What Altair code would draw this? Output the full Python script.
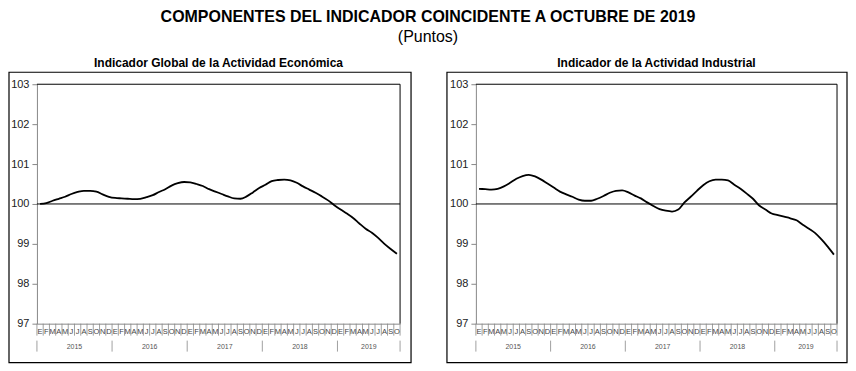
import altair as alt
import pandas as pd

month_letters = ["E", "F", "M", "A", "M", "J", "J", "A", "S", "O", "N", "D"]
years = ["2015", "2016", "2017", "2018", "2019"]
n_months = 58

igae = [100.00, 100.02, 100.08, 100.13, 100.18, 100.25, 100.30, 100.33, 100.33, 100.31, 100.24, 100.18,
        100.15, 100.14, 100.13, 100.12, 100.13, 100.17, 100.22, 100.30, 100.37, 100.46, 100.52, 100.55,
        100.54, 100.50, 100.45, 100.37, 100.31, 100.25, 100.19, 100.14, 100.13, 100.19, 100.29, 100.40,
        100.48, 100.57, 100.60, 100.61, 100.59, 100.53, 100.44, 100.36, 100.28, 100.19, 100.09, 99.97,
        99.86, 99.76, 99.65, 99.51, 99.38, 99.28, 99.15, 99.00, 98.87, 98.75]

iai = [100.38, 100.37, 100.36, 100.38, 100.44, 100.53, 100.63, 100.70, 100.73, 100.69, 100.61, 100.51,
       100.41, 100.31, 100.24, 100.18, 100.11, 100.08, 100.08, 100.13, 100.20, 100.28, 100.33, 100.34,
       100.29, 100.21, 100.14, 100.04, 99.95, 99.87, 99.83, 99.81, 99.86, 100.04, 100.18, 100.33,
       100.47, 100.57, 100.61, 100.61, 100.59, 100.48, 100.38, 100.26, 100.13, 99.96, 99.86, 99.76,
       99.72, 99.68, 99.64, 99.59, 99.48, 99.38, 99.27, 99.11, 98.93, 98.73]

y_ticks = [97, 98, 99, 100, 101, 102, 103]

FONT = "Liberation Sans"
H = 240

months_df = pd.DataFrame({
    "pos": [i + 0.5 for i in range(n_months)],
    "lab": [month_letters[i % 12] for i in range(n_months)],
})
mticks_df = pd.DataFrame({"b": list(range(0, n_months + 1))})
yticks_df = pd.DataFrame({"b": [0, 12, 24, 36, 48, n_months]})
ylabs_df = pd.DataFrame({"pos": [6, 18, 30, 42, 53], "lab": years})

xscale = alt.Scale(domain=[0, n_months], nice=False, zero=False)
yscale = alt.Scale(domain=[97, 103], nice=False, zero=False)
xaxis = alt.Axis(labels=False, ticks=False, title=None, grid=False,
                 domainColor="#888888", domainWidth=1)
yaxis = alt.Axis(values=y_ticks, tickCount=7, title=None, grid=False, domainColor="#888888",
                 tickColor="#888888", tickSize=5, labelPadding=3,
                 labelOverlap=False, labelFlush=False,
                 labelFontSize=11, labelFont=FONT, labelColor="#222222")


def X(f):
    return alt.X(f, scale=xscale, axis=xaxis)


def Y(f):
    return alt.Y(f, scale=yscale, axis=yaxis)


def panel(title, values, width, box_l, box_r):
    df = pd.DataFrame({"pos": [i + 0.5 for i in range(n_months)], "v": values})
    line = alt.Chart(df).mark_line(color="black", strokeWidth=1.8, interpolate="monotone").encode(
        x=X("pos:Q"), y=Y("v:Q"))
    ref = alt.Chart(pd.DataFrame({"v": [100]})).mark_rule(color="black", strokeWidth=1).encode(y=Y("v:Q"))
    top = alt.Chart(pd.DataFrame({"v": [103]})).mark_rule(color="black", strokeWidth=1).encode(y=Y("v:Q"))
    right = alt.Chart(pd.DataFrame({"b": [n_months]})).mark_rule(color="black", strokeWidth=1).encode(x=X("b:Q"))
    mt = alt.Chart(mticks_df).mark_rule(color="#888888", strokeWidth=0.8).encode(
        x=X("b:Q"), y=alt.value(H), y2=alt.value(H + 12))
    ml = alt.Chart(months_df).mark_text(fontSize=7.5, font=FONT, color="#444444", baseline="middle").encode(
        x=X("pos:Q"), y=alt.value(H + 8), text="lab:N")
    yt = alt.Chart(yticks_df).mark_rule(color="#888888", strokeWidth=0.8).encode(
        x=X("b:Q"), y=alt.value(H + 17), y2=alt.value(H + 28))
    yl = alt.Chart(ylabs_df).mark_text(fontSize=7, font=FONT, color="#555555", baseline="middle").encode(
        x=X("pos:Q"), y=alt.value(H + 23), text="lab:N")
    box = alt.Chart(pd.DataFrame({"a": [0]})).mark_rect(
        filled=False, stroke="black", strokeWidth=1.2).encode(
        x=alt.value(box_l), x2=alt.value(box_r), y=alt.value(-12), y2=alt.value(279))
    return alt.layer(line, box, ref, top, right, mt, ml, yt, yl).properties(
        width=width, height=H,
        title=alt.TitleParams(title, fontSize=12, fontWeight="bold", font=FONT,
                              anchor="middle", offset=2, color="black"),
    )


left = panel("Indicador Global de la Actividad Económica", igae, 364, -28, 375)
right = panel("Indicador de la Actividad Industrial", iai, 362, -29, 372)

chart = alt.hconcat(left, right, spacing=76, bounds="flush").properties(
    title=alt.TitleParams(
        "COMPONENTES DEL INDICADOR COINCIDENTE A OCTUBRE DE 2019",
        subtitle="(Puntos)", fontSize=16, fontWeight="bold", font=FONT, color="black",
        subtitleFontSize=16, subtitleFont=FONT, subtitleColor="black", subtitlePadding=4,
        anchor="middle", offset=12),
    padding={"left": 0, "top": 0, "right": 0, "bottom": 0},
).configure_view(stroke=None)

chart.save("out.html", embed_options={"renderer": "svg", "actions": False})
